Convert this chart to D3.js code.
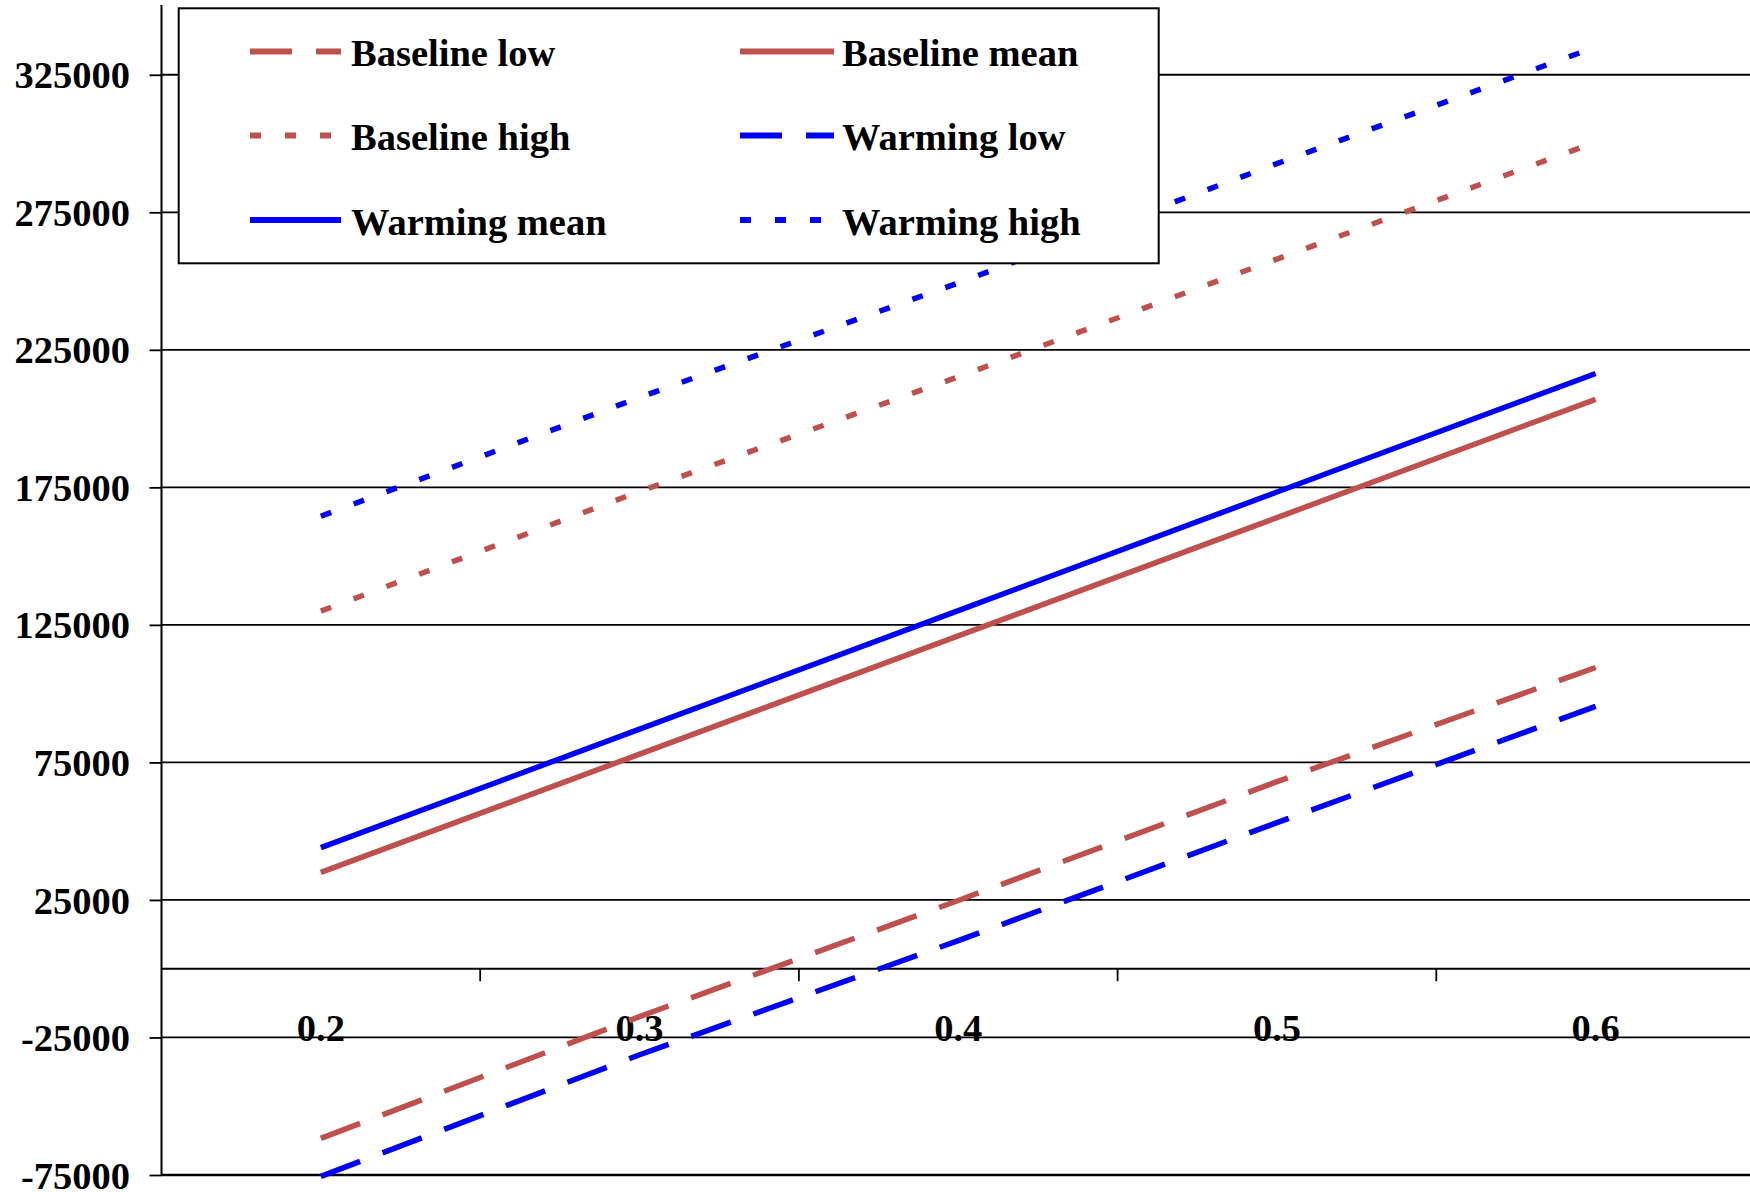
<!DOCTYPE html>
<html>
<head>
<meta charset="utf-8">
<script src="https://cdn.jsdelivr.net/npm/d3@7"></script>
<style>
  html, body { margin: 0; padding: 0; background: #fff; }
  svg { display: block; }
  text { font-family: "Liberation Serif", "Times New Roman", serif; font-weight: bold; fill: #000; }
</style>
</head>
<body>
<svg id="chart" width="1750" height="1192"></svg>
<script>
// ---- data ----
const categories = ["0.2", "0.3", "0.4", "0.5", "0.6"];
const baselineLow  = [-61700, -17400, 24800, 68000, 109500];
const baselineMean = [35000, 78000, 121000, 164000, 207000];
const baselineHigh = [130000, 173500, 215200, 258000, 300500];
const warmingLow   = [-75500, -31300, 10200, 53100, 95400];
const warmingMean  = [44000, 87100, 130200, 173300, 216400];
const warmingHigh  = [164500, 207700, 249300, 292700, 335100];
const yTickValues  = [-75000, -25000, 25000, 75000, 125000, 175000, 225000, 275000, 325000];
const seriesNames  = ["Baseline low", "Baseline mean", "Baseline high", "Warming low", "Warming mean", "Warming high"];

(function () {
// ---- styles ----
const RED = "#C0504D", BLUE = "#0000FF";
const DASH = "42,24", DOT = "11,24";
const FS = 38.5;
const series = [
  { name: seriesNames[0], values: baselineLow,  color: RED,  dash: DASH },
  { name: seriesNames[1], values: baselineMean, color: RED,  dash: null },
  { name: seriesNames[2], values: baselineHigh, color: RED,  dash: DOT },
  { name: seriesNames[3], values: warmingLow,   color: BLUE, dash: DASH },
  { name: seriesNames[4], values: warmingMean,  color: BLUE, dash: null },
  { name: seriesNames[5], values: warmingHigh,  color: BLUE, dash: DOT }
];

const svg = d3.select("#chart");
const W = 1750;
const pLeft = 161.5, pRight = 1755, pTop = 6, pBottom = 1175;

const x = d3.scaleBand().domain(categories).range([pLeft, pRight]).paddingInner(0).paddingOuter(0);
const y = d3.scaleLinear().domain([-75000, 350000]).range([pBottom, pTop]);
const cx = c => x(c) + x.bandwidth() / 2;

// gridlines
svg.append("g").selectAll("line").data(yTickValues).join("line")
  .attr("x1", pLeft).attr("x2", W)
  .attr("y1", d => y(d)).attr("y2", d => y(d))
  .attr("stroke", "#000")
  .attr("stroke-width", d => d === -75000 ? 2.6 : 1.8);

// y axis
const yAxis = d3.axisLeft(y).tickValues(yTickValues).tickSize(12).tickPadding(19.5).tickFormat(d => String(d));
const gy = svg.append("g").attr("transform", `translate(${pLeft},0)`).call(yAxis);
gy.select(".domain").remove();
gy.selectAll(".tick line").attr("stroke", "#000").attr("stroke-width", 1.8);
gy.selectAll(".tick text").attr("font-size", FS).attr("font-family", "Liberation Serif, Times New Roman, serif")
  .attr("font-weight", "bold").attr("fill", "#000").attr("dy", "0.34em");
svg.append("line").attr("x1", pLeft).attr("x2", pLeft).attr("y1", 5).attr("y2", pBottom + 1)
  .attr("stroke", "#000").attr("stroke-width", 2);

// x axis at y = 0
const y0 = y(0);
svg.append("line").attr("x1", pLeft).attr("x2", W).attr("y1", y0).attr("y2", y0)
  .attr("stroke", "#000").attr("stroke-width", 2);
svg.append("g").selectAll("line").data(categories.slice(1)).join("line")
  .attr("x1", d => x(d)).attr("x2", d => x(d))
  .attr("y1", y0).attr("y2", y0 + 12.5)
  .attr("stroke", "#000").attr("stroke-width", 1.8);
svg.append("g").selectAll("text").data(categories).join("text")
  .attr("x", d => cx(d)).attr("y", y0 + 72.5)
  .attr("text-anchor", "middle").attr("font-size", FS)
  .text(d => d);

// lines
const line = d3.line().x((d, i) => cx(categories[i])).y(d => y(d));
svg.append("g").selectAll("path").data(series).join("path")
  .attr("d", d => line(d.values))
  .attr("fill", "none")
  .attr("stroke", d => d.color)
  .attr("stroke-width", 5.5)
  .attr("stroke-dasharray", d => d.dash)
  .attr("stroke-linejoin", "round");

// legend
const lg = svg.append("g");
lg.append("rect").attr("x", 178.7).attr("y", 8.3).attr("width", 980).attr("height", 255)
  .attr("fill", "#fff").attr("stroke", "#000").attr("stroke-width", 2);
const colLine = [[250, 341], [740, 834]];
const colText = [351, 842];
const rowY = [51.5, 135.5, 220];
series.forEach((s, i) => {
  const col = i % 2, row = Math.floor(i / 2);
  const yy = rowY[row];
  lg.append("line")
    .attr("x1", colLine[col][0]).attr("x2", colLine[col][1])
    .attr("y1", yy).attr("y2", yy)
    .attr("stroke", s.color).attr("stroke-width", 6)
    .attr("stroke-dasharray", s.dash);
  lg.append("text").attr("x", colText[col]).attr("y", yy + 14.5)
    .attr("font-size", FS).text(s.name);
});
})();
</script>
</body>
</html>
